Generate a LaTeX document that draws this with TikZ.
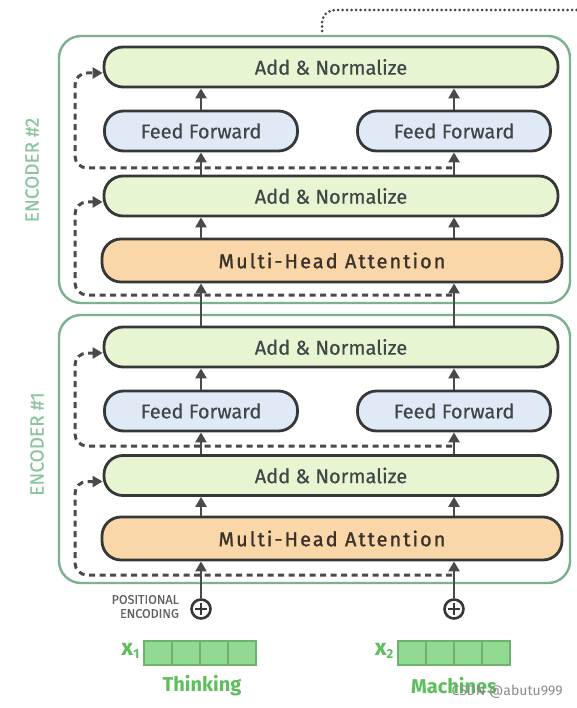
\documentclass[tikz,border=0pt]{standalone}
\usepackage{fontspec}
\setmainfont{Fira Sans}
\newfontfamily\boxfont[FakeBold=0.5]{Fira Sans}
\newfontfamily\mhafont[LetterSpace=10,FakeBold=1.2]{Fira Sans}
\newfontfamily\encfont[FakeBold=0.3]{Fira Sans}
\usetikzlibrary{arrows.meta,calc}
\definecolor{edge}{HTML}{363838}
\definecolor{anfill}{HTML}{E7F5D2}
\definecolor{fffill}{HTML}{DFEAF6}
\definecolor{mhfill}{HTML}{FAD7A8}
\definecolor{encline}{HTML}{7DB08E}
\definecolor{enctext}{HTML}{8CC4A0}
\definecolor{arrowc}{HTML}{4A4A4A}
\definecolor{antext}{HTML}{3E4846}
\definecolor{mhtext}{HTML}{3A332C}
\definecolor{vecfill}{HTML}{92D992}
\definecolor{vecline}{HTML}{6DB36D}
\definecolor{vectext}{HTML}{5CBF5C}
\tikzset{
  encbox/.style={draw=encline, line width=2.4pt, rounded corners=22pt, fill=white,
    minimum width=511pt},
  anbox/.style={draw=edge, line width=2.8pt, rounded corners=19pt, fill=anfill,
    minimum width=454pt, minimum height=40pt, text=antext, font=\boxfont\fontsize{20}{20}\selectfont},
  ffbox/.style={draw=edge, line width=2.8pt, rounded corners=19pt, fill=fffill,
    minimum width=193pt, minimum height=40pt, text=antext, font=\boxfont\fontsize{20}{20}\selectfont},
  mhbox/.style={draw=edge, line width=2.8pt, rounded corners=19pt, fill=mhfill,
    minimum width=460pt, minimum height=43pt, text=mhtext, font=\mhafont\fontsize{20}{20}\selectfont},
  arr/.style={draw=arrowc, line width=2.6pt, -{Triangle[length=10pt,width=11pt]}},
  res/.style={draw=arrowc, line width=3pt, dash pattern=on 6pt off 4.5pt,
    rounded corners=12pt, -{Triangle[length=10pt,width=11pt]}},
  enclabel/.style={rotate=90, text=enctext, font=\encfont\fontsize{19}{19}\selectfont},
  peplus/.style={circle, draw=edge, line width=2.6pt, minimum size=19pt, inner sep=0pt, fill=white},
  cell/.style={draw=vecline, line width=1.4pt, fill=vecfill, minimum width=28pt, minimum height=24pt, inner sep=0pt},
  word/.style={text=vectext, font=\bfseries\fontsize{20}{20}\selectfont},
}
\begin{document}
\begin{tikzpicture}[x=1pt,y=-1pt]
\useasboundingbox (0,0) rectangle (577,708);
\fill[white] (0,0) rectangle (577,708);

% decoder link (dotted)
\coordinate (dotA) at (322,31);
\coordinate (dotB) at (577,10);
\draw[arrowc, line width=3pt, line cap=round, dash pattern=on 0pt off 4.5pt, rounded corners=13pt]
  (dotA) -- (dotA |- dotB) -- (dotB);

% encoder frames
\node[encbox, minimum height=267pt] (enc2) at (314.5,169.5) {};
\node[encbox, minimum height=268pt] (enc1) at (314.5,449) {};
\node[enclabel] (lab2) at (32,170) {ENCODER \#2};
\node[enclabel] (lab1) at (37,444) {ENCODER \#1};

% ---------- encoder 2 ----------
\node[anbox] (anA2) at (331,67) {Add \& Normalize};
\node[ffbox] (ffL2) at (201,131) {Feed Forward};
\node[ffbox] (ffR2) at (454,131) {Feed Forward};
\node[anbox] (anB2) at (331,196) {Add \& Normalize};
\node[mhbox] (mh2) at (332,260.5) {Multi-Head Attention};

% ---------- encoder 1 ----------
\node[anbox] (anA1) at (331,347) {Add \& Normalize};
\node[ffbox] (ffL1) at (201,411) {Feed Forward};
\node[ffbox] (ffR1) at (454,411) {Feed Forward};
\node[anbox] (anB1) at (331,475.5) {Add \& Normalize};
\node[mhbox] (mh1) at (332,538.5) {Multi-Head Attention};

% residual coordinates
\coordinate (lane) at (75,0);
\coordinate (r2a) at (452,295);
\coordinate (r2b) at (452,168);
\coordinate (r1a) at (452,575);
\coordinate (r1b) at (452,446);

% residual dashed paths
\draw[res] (r2a) -- (r2a -| lane) -- ($(anB2.west -| lane)+(0,6)$) -- ($(anB2.west)+(0,6)$);
\draw[res] (r2b) -- (r2b -| lane) -- ($(anA2.west -| lane)+(0,6)$) -- ($(anA2.west)+(0,6)$);
\draw[res] (r1a) -- (r1a -| lane) -- ($(anB1.west -| lane)+(0,6)$) -- ($(anB1.west)+(0,6)$);
\draw[res] (r1b) -- (r1b -| lane) -- ($(anA1.west -| lane)+(0,6)$) -- ($(anA1.west)+(0,6)$);

% arrows in encoder 2
\foreach \c in {ffL2,ffR2}{
  \draw[arr] (mh2.north -| \c) -- (anB2.south -| \c);
  \draw[arr] (anB2.north -| \c) -- (\c.south);
  \draw[arr] (\c.north) -- (anA2.south -| \c);
}
% arrows in encoder 1
\foreach \c in {ffL1,ffR1}{
  \draw[arr] (mh1.north -| \c) -- (anB1.south -| \c);
  \draw[arr] (anB1.north -| \c) -- (\c.south);
  \draw[arr] (\c.north) -- (anA1.south -| \c);
}
% encoder 1 -> encoder 2
\draw[arr] (anA1.north -| ffL2) -- (mh2.south -| ffL2);
\draw[arr] (anA1.north -| ffR2) -- (mh2.south -| ffR2);

% positional encoding
\node[peplus] (pe1) at (201,609) {};
\node[peplus] (pe2) at (454,609) {};
\foreach \p in {pe1,pe2}{
  \draw[edge, line width=2.6pt] ($(\p.center)+(-6,0)$) -- ($(\p.center)+(6,0)$);
  \draw[edge, line width=2.6pt] ($(\p.center)+(0,-6)$) -- ($(\p.center)+(0,6)$);
}
\draw[arr] (pe1.north) -- (mh1.south -| pe1);
\draw[arr] (pe2.north) -- (mh1.south -| pe2);
\node[text=black!62, font=\encfont\fontsize{12.5}{14}\selectfont, align=right, anchor=east, inner sep=0pt]
  (pelab) at (179,606.5) {POSITIONAL\\ENCODING};

% input vectors
\foreach \i in {0,1,2,3}{
  \node[cell] (a\i) at (158+28*\i,653) {};
  \node[cell] (b\i) at (412+28*\i,653) {};
}
\node[text=vectext, font=\bfseries\fontsize{23}{23}\selectfont, anchor=east, inner sep=0pt] (x1) at (140,651) {x\textsubscript{\fontsize{13}{13}\selectfont 1}};
\node[text=vectext, font=\bfseries\fontsize{23}{23}\selectfont, anchor=east, inner sep=0pt] (x2) at (394,651) {x\textsubscript{\fontsize{13}{13}\selectfont 2}};
\node[word] (w1) at (202,686) {Thinking};
\node[word] (w2) at (454,686) {Machines};

% watermark
\node[text=black!45, font=\fontsize{14}{14}\selectfont, anchor=east, inner sep=0pt] (wm) at (563,692) {CSDN @abutu999};
\end{tikzpicture}
\end{document}
